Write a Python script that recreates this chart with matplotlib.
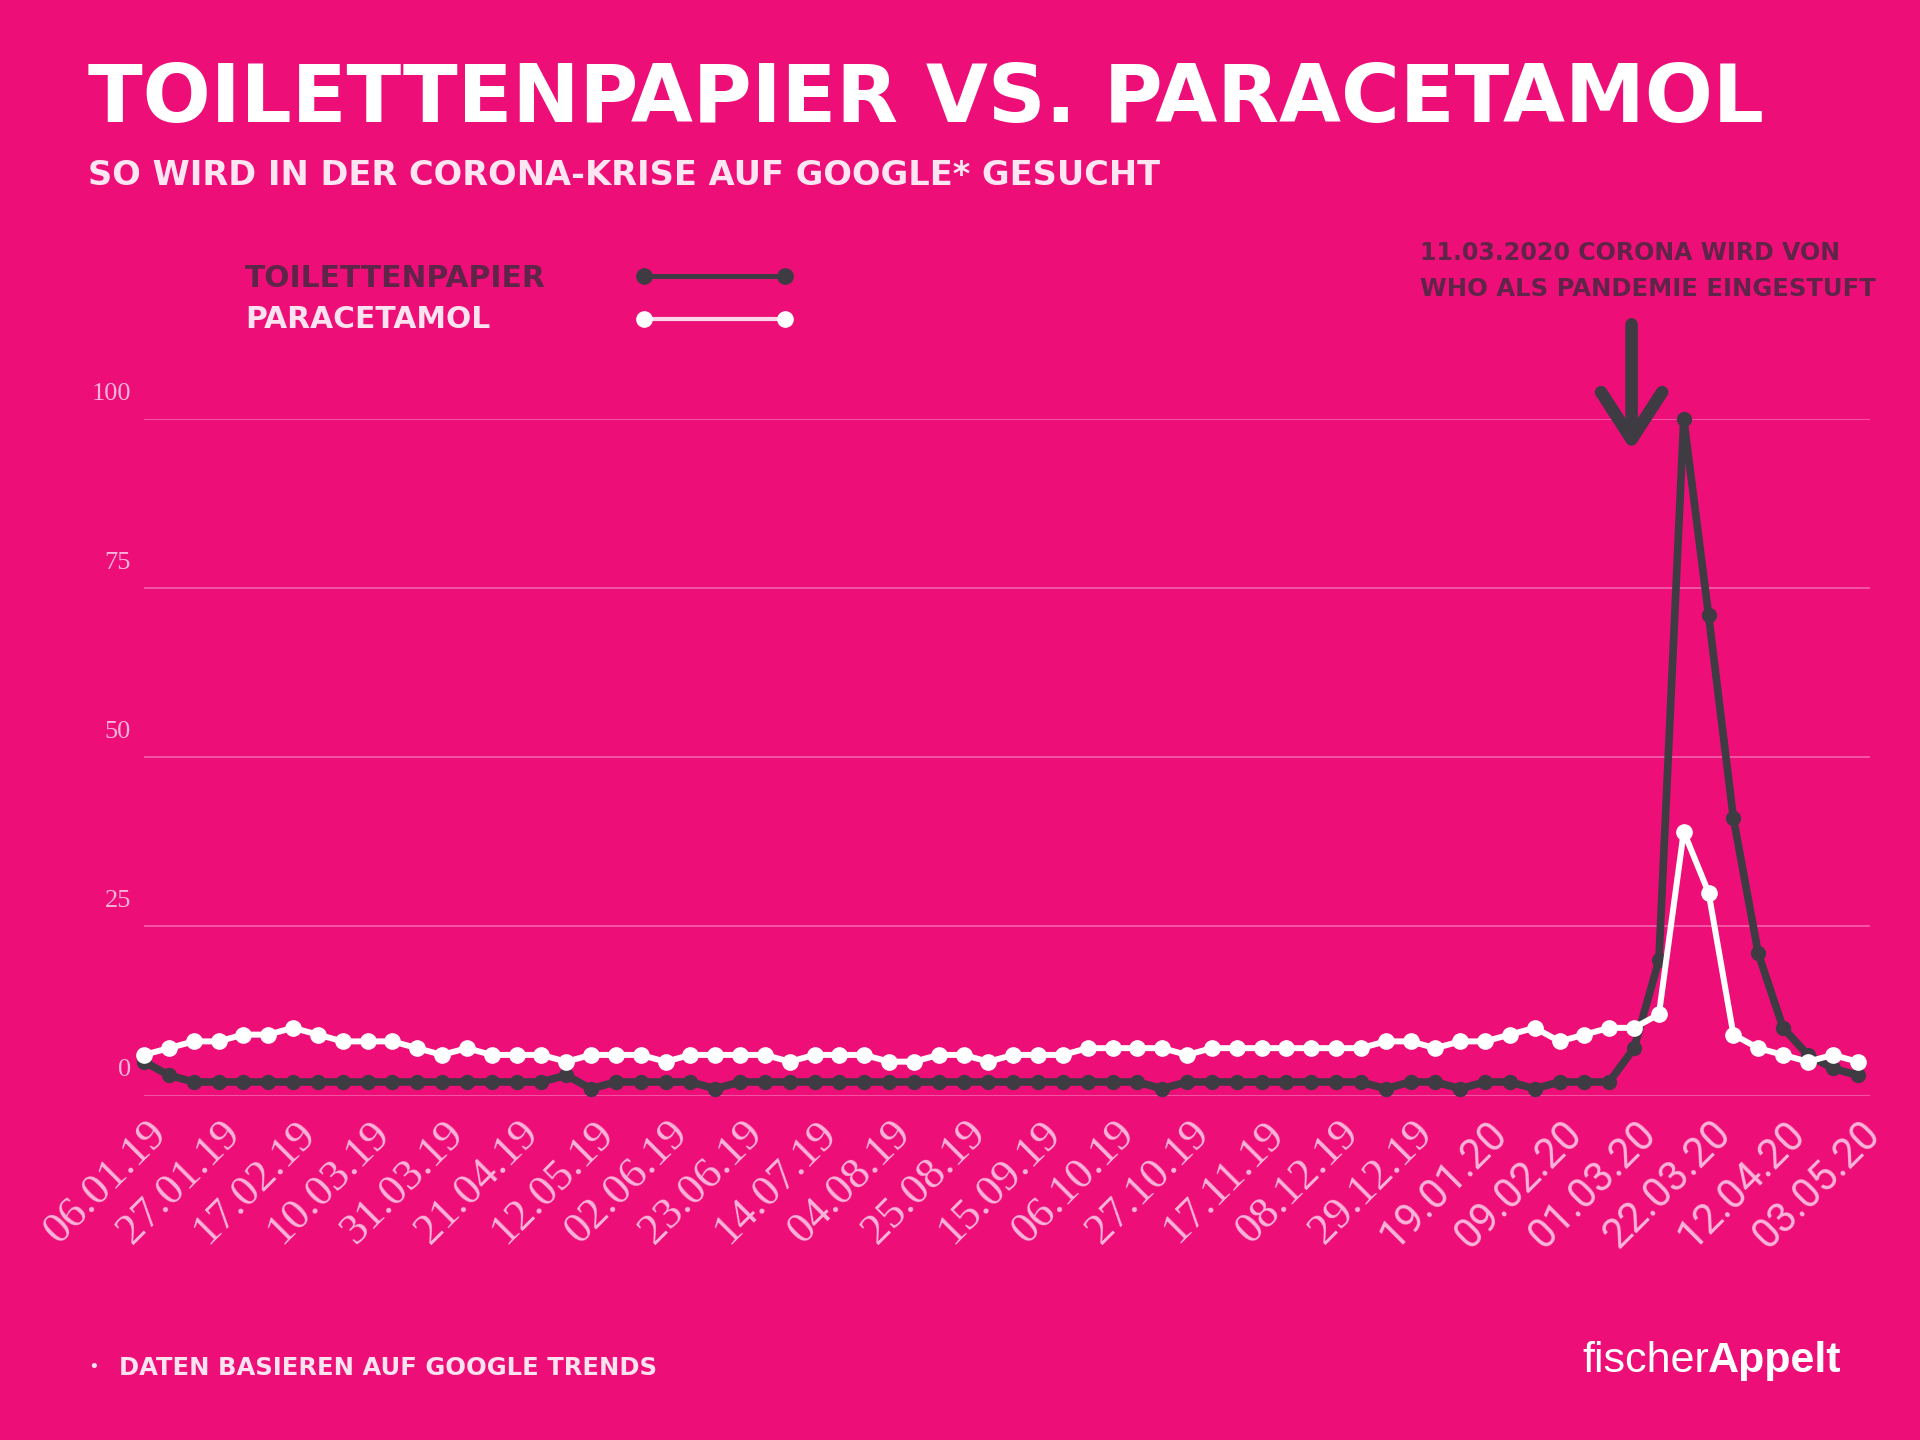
import numpy as np
import matplotlib
matplotlib.use('Agg')
import matplotlib.pyplot as plt
import matplotlib.transforms as mtransforms
from matplotlib.lines import Line2D

# --- Daten (Google Trends, wöchentlich 06.01.19 - 03.05.20) ---
toilettenpapier = [5, 3, 2, 2, 2, 2, 2, 2, 2, 2,
                   2, 2, 2, 2, 2, 2, 2, 3, 1, 2,
                   2, 2, 2, 1, 2, 2, 2, 2, 2, 2,
                   2, 2, 2, 2, 2, 2, 2, 2, 2, 2,
                   2, 1, 2, 2, 2, 2, 2, 2, 2, 2,
                   1, 2, 2, 1, 2, 2, 1, 2, 2, 2,
                   7, 20, 100, 71, 41, 21, 10, 6, 4, 3]
paracetamol = [6, 7, 8, 8, 9, 9, 10, 9, 8, 8,
               8, 7, 6, 7, 6, 6, 6, 5, 6, 6,
               6, 5, 6, 6, 6, 6, 5, 6, 6, 6,
               5, 5, 6, 6, 5, 6, 6, 6, 7, 7,
               7, 7, 6, 7, 7, 7, 7, 7, 7, 7,
               8, 8, 7, 8, 8, 9, 10, 8, 9, 10,
               10, 12, 39, 30, 9, 7, 6, 5, 6, 5]
tick_labels = ['06.01.19', '27.01.19', '17.02.19', '10.03.19', '31.03.19', '21.04.19',
               '12.05.19', '02.06.19', '23.06.19', '14.07.19', '04.08.19', '25.08.19',
               '15.09.19', '06.10.19', '27.10.19', '17.11.19', '08.12.19', '29.12.19',
               '19.01.20', '09.02.20', '01.03.20', '22.03.20', '12.04.20', '03.05.20']
y_ticks = [0, 25, 50, 75, 100]

# Farben
bg = '#ED0E78'
dunkel = '#3e3b43'
weiss = '#ffffff'
hellrosa = '#fbb4da'
pflaume = '#5e2549'
grid_farbe = '#f35aa9'

W, H, DPI = 1920, 1440, 100
fig = plt.figure(figsize=(W / DPI, H / DPI), dpi=DPI, facecolor=bg)
renderer = fig.canvas.get_renderer()

ax = fig.add_axes([144 / W, 1 - 1095.5 / H, (1870 - 144) / W, (1095.5 - 419) / H])
ax.set_facecolor(bg)

x = np.arange(len(toilettenpapier))
ax.plot(x, toilettenpapier, color=dunkel, lw=5.5, marker='o', ms=10,
        solid_joinstyle='round', clip_on=False, zorder=3)
ax.plot(x, paracetamol, color=weiss, lw=4.3, marker='o', ms=11,
        solid_joinstyle='round', clip_on=False, zorder=4)

ax.set_xlim(0, len(x) - 0.5)
ax.set_ylim(0, 100)
for s in ax.spines.values():
    s.set_visible(False)

ax.set_yticks(y_ticks)
ax.yaxis.grid(True, color=grid_farbe, lw=1.3)
ax.set_axisbelow(True)
ax.tick_params(axis='y', length=0, labelleft=False)

# y-Beschriftungen etwas über den Gitterlinien
ylab_trans = mtransforms.blended_transform_factory(ax.transAxes, ax.transData) + \
    mtransforms.ScaledTranslation(-13 / DPI, 19 / DPI, fig.dpi_scale_trans)
for v in y_ticks:
    ax.text(0, v, str(v), transform=ylab_trans, ha='right', va='baseline',
            fontsize=19, family='Liberation Serif', color=hellrosa)

# x-Beschriftungen, 45° gedreht
ax.set_xticks(x[::3])
ax.set_xticklabels(tick_labels)
ax.tick_params(axis='x', length=0, pad=23)
offset = mtransforms.ScaledTranslation(16 / DPI, 0, fig.dpi_scale_trans)
for lab in ax.get_xticklabels():
    lab.set_rotation(45)
    lab.set_rotation_mode('anchor')
    lab.set_ha('right')
    lab.set_va('center')
    lab.set_color(hellrosa)
    if lab.get_text().endswith('19'):
        lab.set_family('Liberation Serif')
        lab.set_fontsize(32)
    else:
        lab.set_family('Roboto')
        lab.set_fontsize(30)
    lab.set_transform(lab.get_transform() + offset)


def fit_text(px, py, s, width, size, **kw):
    # Text auf Zielbreite skalieren (px/py in Pixel von oben links, py = Grundlinie)
    t = fig.text(px / W, 1 - py / H, s, fontsize=size, ha='left', va='baseline', **kw)
    w = t.get_window_extent(renderer).width
    t.set_fontsize(size * width / w)
    return t


fit_text(88, 122, 'TOILETTENPAPIER VS. PARACETAMOL', 1675, 58,
         family='DejaVu Sans', weight='bold', color=weiss)
fit_text(88, 185, 'SO WIRD IN DER CORONA-KRISE AUF GOOGLE* GESUCHT', 1075, 25,
         family='DejaVu Sans', weight='bold', color='#fde6f2')

# Legende
fit_text(245, 287, 'TOILETTENPAPIER', 299, 20, family='DejaVu Sans', weight='bold', color=pflaume)
fit_text(245, 328, 'PARACETAMOL', 245, 20, family='DejaVu Sans', weight='bold', color='#fde2f0')
fig.add_artist(Line2D([644 / W, 785 / W], [1 - 276 / H] * 2, color=dunkel, lw=3.6,
                      marker='o', ms=11, transform=fig.transFigure))
fig.add_artist(Line2D([644 / W, 785 / W], [1 - 319 / H] * 2, color='#fcd6ea', lw=3,
                      marker='o', ms=11, mfc=weiss, mec=weiss, transform=fig.transFigure))

# Annotation WHO
fit_text(1420, 260, '11.03.2020 CORONA WIRD VON', 421, 15,
         family='DejaVu Sans', weight='bold', color=pflaume)
fit_text(1420, 296, 'WHO ALS PANDEMIE EINGESTUFT', 454, 15,
         family='DejaVu Sans', weight='bold', color=pflaume)
ax.annotate('', xy=(59.9, 95.3), xytext=(59.9, 114),
            arrowprops=dict(arrowstyle='->,head_length=0.85,head_width=0.55', lw=9,
                            color=dunkel, mutation_scale=40, shrinkA=0, shrinkB=0,
                            joinstyle='round', capstyle='round'),
            annotation_clip=False)

# Fußzeile
fig.text(94 / W, 1 - 1367 / H, '•', fontsize=13, ha='center', va='center',
         family='DejaVu Sans', color='#fde2f0')
fit_text(119, 1375, 'DATEN BASIEREN AUF GOOGLE TRENDS', 538, 16,
         family='DejaVu Sans', weight='bold', color='#fde2f0')

# Logo
t1 = fig.text(1582 / W, 1 - 1372 / H, 'fischer', fontsize=31, ha='left', va='baseline',
              family='Liberation Sans', color=weiss)
w1 = t1.get_window_extent(renderer).width
fig.text((1582 + w1 - 1) / W, 1 - 1372 / H, 'Appelt', fontsize=31, ha='left', va='baseline',
         family='Liberation Sans', weight='bold', color=weiss)

fig.savefig('out.png', dpi=DPI, facecolor=bg)
